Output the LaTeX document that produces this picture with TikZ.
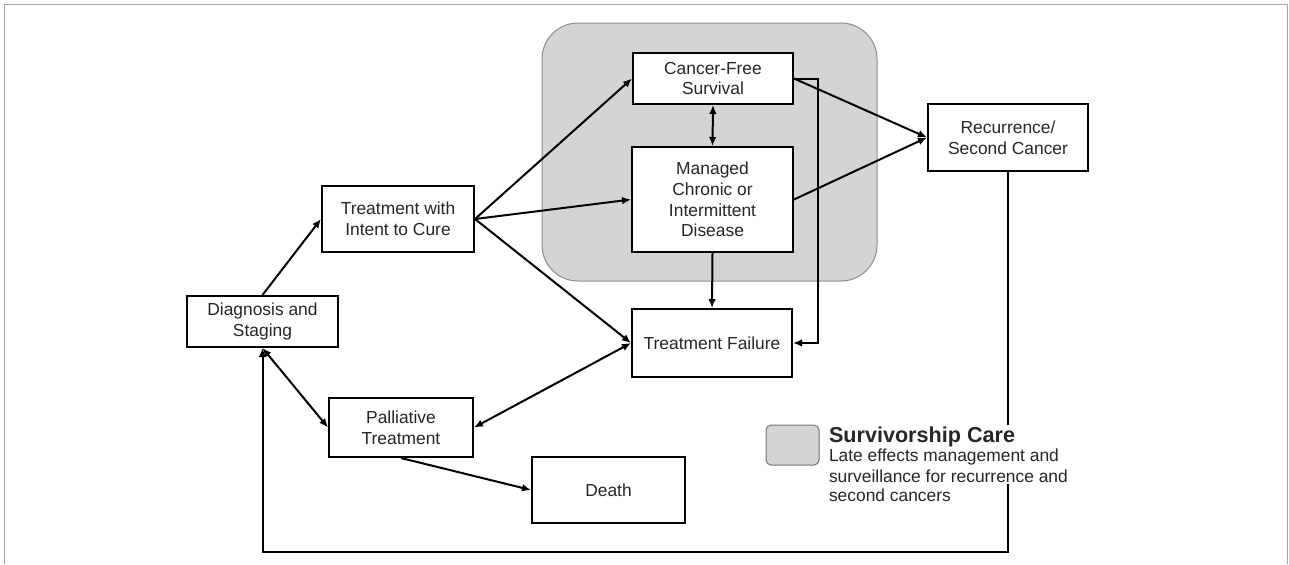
\documentclass[tikz,border=0pt]{standalone}
\usepackage{fontspec}
\setmainfont{Liberation Sans}
\usetikzlibrary{arrows.meta}

\begin{document}
\begin{tikzpicture}[font=\fontsize{8.7}{10.4}\selectfont, x=0.5pt, y=-0.5pt,
  text=black!85, line width=1pt,
  box/.style={draw, fill=white, align=center, inner sep=1pt},
  tip/.style={-{Latex[length=4.5pt,width=3.8pt]}},
  both/.style={{Latex[length=4.5pt,width=3.8pt]}-{Latex[length=4.5pt,width=3.8pt]}}]

\useasboundingbox (0,0) rectangle (1289,564);
\draw[black!35, line width=0.5pt] (4,564) -- (4,4) -- (1287.5,4) -- (1287.5,564);

\draw[black!45, fill=black!17, line width=0.5pt, rounded corners=18pt] (542,23) rectangle (877,281);

\node[box, minimum width=75.5pt, minimum height=25.5pt] (b0) at (262.5,321.5) {Diagnosis and\\Staging};
\node[box, minimum width=76pt, minimum height=33pt] (b1) at (398,219) {Treatment with\\Intent to Cure};
\node[box, minimum width=72pt, minimum height=29.5pt] (b2) at (401,427.5) {Palliative\\Treatment};
\node[box, minimum width=76.5pt, minimum height=33pt] (b3) at (608.5,490) {Death};
\node[box, minimum width=80pt, minimum height=25.5pt] (b4) at (713,78.5) {Cancer-Free\\Survival};
\node[box, minimum width=80.5pt, minimum height=52.5pt] (b5) at (712.5,199.5) {Managed\\Chronic or\\Intermittent\\Disease};
\node[box, minimum width=80pt, minimum height=34pt] (b6) at (712,343) {Treatment Failure};
\node[box, minimum width=80pt, minimum height=33.5pt] (b7) at (1008,137.5) {Recurrence/\\Second Cancer};

\begin{scope}[tip]
\draw (b0.north)--(b1.west);
\draw (b1.east)--(b4.west);
\draw (b1.east)--(b5.west);
\draw (b1.east)--(b6.west);
\draw (b5.south)--(b6.north);
\draw (b4.east)-- ++(24,0) |- (b6.east);
\draw (b4.east)--(b7.west);
\draw (b5.east)--(b7.west);
\draw (b2.south)--(b3.west);
\draw (b7.south)-- ++(0,380) -| (b0.south);
\end{scope}

\begin{scope}[both]
\draw (b4.south)--(b5.north);
\draw (b6.west)--(b2.east);
\draw (b0.south)--(b2.west);
\end{scope}

\node[draw=black!55, fill=black!17, line width=0.5pt, rounded corners=2.5pt,
  minimum width=26.5pt, minimum height=20pt] (k0) at (792.5,445) {};
\node[fill=white, align=left, anchor=north west, inner sep=1pt] (k1) at (826,424)
  {{\fontsize{10.8}{12}\selectfont\bfseries Survivorship Care}\\[-1pt]
   Late effects management and\\surveillance for recurrence and};
\node[align=left, anchor=north west, inner sep=1pt] (k2) at (k1.south west) {second cancers};
\end{tikzpicture}
\end{document}
